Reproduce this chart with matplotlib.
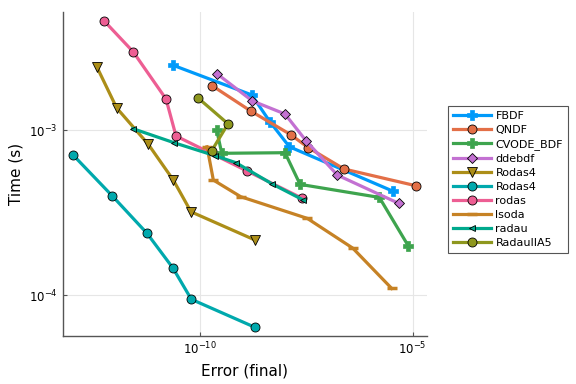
import matplotlib
matplotlib.use('Agg')
import matplotlib.pyplot as plt

# work-precision data (error, time)
fbdf_err = [2.35e-11, 1.68e-9, 4.50e-9, 1.28e-8, 3.40e-6]
fbdf_time = [2.47e-3, 1.63e-3, 1.12e-3, 7.92e-4, 4.27e-4]

qndf_err = [2.00e-10, 1.61e-9, 1.38e-8, 3.56e-8, 2.45e-7, 1.19e-5]
qndf_time = [1.85e-3, 1.30e-3, 9.37e-4, 7.82e-4, 5.81e-4, 4.60e-4]

cvode_err = [2.53e-10, 3.32e-10, 1.01e-8, 2.28e-8, 1.65e-6, 7.88e-6]
cvode_time = [1.00e-3, 7.23e-4, 7.29e-4, 4.69e-4, 3.91e-4, 1.99e-4]

ddebdf_err = [2.62e-10, 1.73e-9, 1.01e-8, 3.15e-8, 1.70e-7, 4.69e-6]
ddebdf_time = [2.18e-3, 1.50e-3, 1.25e-3, 8.61e-4, 5.34e-4, 3.60e-4]

rodas4a_err = [3.88e-13, 1.14e-12, 6.30e-12, 2.43e-11, 6.32e-11, 2.00e-9]
rodas4a_time = [2.42e-3, 1.36e-3, 8.19e-4, 4.98e-4, 3.20e-4, 2.16e-4]

rodas4b_err = [1.10e-13, 9.02e-13, 5.88e-12, 2.39e-11, 6.42e-11, 2.00e-9]
rodas4b_time = [7.03e-4, 3.99e-4, 2.37e-4, 1.46e-4, 9.46e-5, 6.40e-5]

rodas_err = [5.85e-13, 2.76e-12, 1.64e-11, 2.81e-11, 1.27e-9, 2.58e-8]
rodas_time = [4.56e-3, 2.98e-3, 1.54e-3, 9.20e-4, 5.67e-4, 3.86e-4]

lsoda_err = [1.50e-10, 2.11e-10, 9.25e-10, 3.37e-8, 3.92e-7, 3.22e-6]
lsoda_time = [7.92e-4, 4.98e-4, 3.95e-4, 2.92e-4, 1.93e-4, 1.10e-4]

radau_err = [2.71e-12, 2.52e-11, 2.31e-10, 7.18e-10, 5.10e-9, 2.72e-8]
radau_time = [1.02e-3, 8.38e-4, 6.99e-4, 6.34e-4, 4.71e-4, 3.77e-4]

radau5_err = [9.07e-11, 4.66e-10, 1.93e-10]
radau5_time = [1.57e-3, 1.09e-3, 7.49e-4]

series = [
    ('FBDF', fbdf_err, fbdf_time, '#009AFA', 'P'),
    ('QNDF', qndf_err, qndf_time, '#E36F47', 'o'),
    ('CVODE_BDF', cvode_err, cvode_time, '#3EA44E', 'P'),
    ('ddebdf', ddebdf_err, ddebdf_time, '#C371D2', 'D'),
    ('Rodas4', rodas4a_err, rodas4a_time, '#AC8E18', 'v'),
    ('Rodas4', rodas4b_err, rodas4b_time, '#00A9AD', 'o'),
    ('rodas', rodas_err, rodas_time, '#ED5E93', 'o'),
    ('lsoda', lsoda_err, lsoda_time, '#C68225', '_'),
    ('radau', radau_err, radau_time, '#00A98D', '<'),
    ('RadauIIA5', radau5_err, radau5_time, '#8E971E', 'o'),
]

fig = plt.figure(figsize=(5.76, 3.84), dpi=100)
ax = fig.add_axes([0.1089, 0.125, 0.6319, 0.8445])

for name, e, t, c, m in series:
    if m == 'P':
        ax.plot(e, t, color=c, lw=2.3, marker=m, ms=7, mec=c, mew=0.5, label=name)
    elif m == '_':
        ax.plot(e, t, color=c, lw=2.3, marker=m, ms=7, mec=c, mew=2.5, label=name)
    elif m == '<':
        ax.plot(e, t, color=c, lw=2.3, marker=m, ms=4.5, mec='black', mew=0.6, label=name)
    elif m == 'D':
        ax.plot(e, t, color=c, lw=2.3, marker=m, ms=5, mec='black', mew=0.6, label=name)
    else:
        ax.plot(e, t, color=c, lw=2.3, marker=m, ms=6.5, mec='black', mew=0.6, label=name)

ax.set_xscale('log')
ax.set_yscale('log')
ax.set_xlim(10**-13.208, 10**-4.672)
ax.set_ylim(10**-4.2462, 10**-2.2843)
ax.set_xticks([1e-10, 1e-5])
ax.set_yticks([1e-4, 1e-3])
ax.minorticks_off()
ax.grid(True, color='#e6e6e6', lw=0.8)
ax.set_axisbelow(True)
for s in ['top', 'right']:
    ax.spines[s].set_visible(False)
for s in ['left', 'bottom']:
    ax.spines[s].set_color('#555555')
    ax.spines[s].set_linewidth(1.0)
ax.tick_params(direction='in', length=3, labelsize=8.5, color='#555555')
ax.set_xlabel('Error (final)', fontsize=11)
ax.set_ylabel('Time (s)', fontsize=11)

leg = fig.legend(loc='upper left', bbox_to_anchor=(0.7686, 0.738), fontsize=8,
                 fancybox=False, edgecolor='#555555', framealpha=1,
                 handlelength=3.4, labelspacing=0.36, borderpad=0.45, handletextpad=0.4)
leg.get_frame().set_linewidth(0.8)

fig.savefig('out.png', dpi=100)
